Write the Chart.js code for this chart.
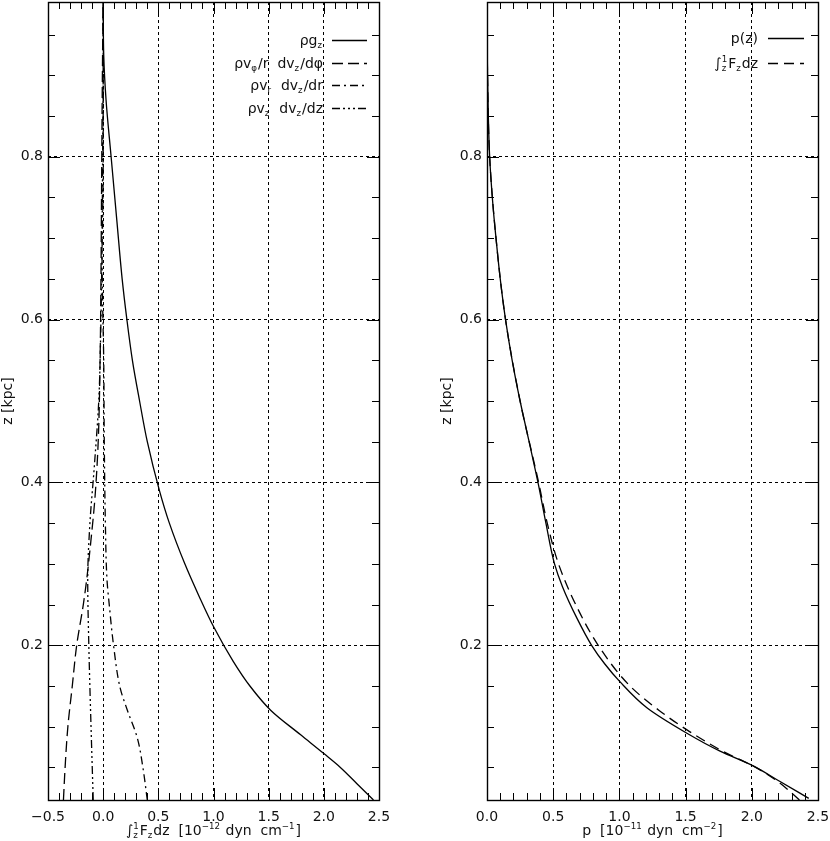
<!DOCTYPE html>
<html><head><meta charset="utf-8">
<script src="https://cdn.jsdelivr.net/npm/chart.js@4/dist/chart.umd.min.js"></script>
<style>
html,body{margin:0;padding:0;background:#fff;}
#wrap{position:relative;width:830px;height:841px;overflow:hidden;}
canvas{position:absolute;top:0;}
#c1{left:0}
#c2{left:415px}
</style></head><body>
<div id="wrap"><canvas id="c1" width="415" height="841"></canvas><canvas id="c2" width="415" height="841"></canvas></div>
<script>
// ---------- data (left panel: force terms integrated from z to 1 kpc) ----------
const zGrav    = [0.01,0.03,0.05,0.067,0.09,0.12,0.15,0.18,0.223,0.26,0.30,0.35,0.39,0.45,0.50,0.55,0.60,0.65,0.72,0.80,0.87,0.925,0.99];
const gravTerm = [2.45,2.30,2.15,2.00,1.79,1.52,1.33,1.18,1.00,0.87,0.74,0.60,0.51,0.40,0.33,0.265,0.215,0.172,0.125,0.072,0.026,0.005,0.0];

const zPhi     = [0.01,0.05,0.10,0.15,0.20,0.25,0.28,0.33,0.38,0.45,0.55,0.65,0.75,0.85,0.93,0.99];
const phiTerm  = [-0.36,-0.345,-0.32,-0.28,-0.24,-0.18,-0.15,-0.11,-0.075,-0.045,-0.028,-0.02,-0.015,-0.01,-0.005,0.0];

const zRad     = [0.01,0.05,0.086,0.12,0.147,0.20,0.25,0.28,0.35,0.45,0.55,0.62,0.68,0.72,0.80,0.90,0.99];
const radTerm  = [0.40,0.36,0.31,0.22,0.155,0.094,0.055,0.035,0.02,0.01,0.005,-0.005,-0.01,-0.005,0.0,0.0,0.0];

const zVert    = [0.01,0.10,0.20,0.28,0.35,0.42,0.50,0.60,0.70,0.80,0.90,0.99];
const vertTerm = [-0.09,-0.11,-0.13,-0.14,-0.12,-0.08,-0.04,-0.02,-0.01,-0.005,0.0,0.0];

// ---------- data (right panel: pressure) ----------
const zPress   = [0.012,0.033,0.052,0.07,0.092,0.123,0.156,0.177,0.20,0.233,0.272,0.30,0.35,0.40,0.45,0.50,0.55,0.60,0.65,0.70,0.74,0.80,0.85,0.90,0.953];
const pressure = [2.43,2.21,2.01,1.76,1.51,1.21,1.00,0.89,0.79,0.68,0.57,0.51,0.445,0.385,0.318,0.25,0.19,0.14,0.10,0.068,0.045,0.02,0.01,0.004,0.0];

const zInteg   = [0.01,0.031,0.05,0.07,0.094,0.12,0.15,0.20,0.25,0.30,0.35,0.40,0.50,0.60,0.70,0.80,0.90,0.96];
const integF   = [2.36,2.21,2.03,1.78,1.53,1.30,1.08,0.84,0.67,0.54,0.455,0.39,0.25,0.14,0.068,0.02,0.004,0.0];

// ---------- ticks & labels ----------
const xTicksLeft  = [-0.5,0.0,0.5,1.0,1.5,2.0,2.5];
const xTicksRight = [0.0,0.5,1.0,1.5,2.0,2.5];
const yTicks      = [0.2,0.4,0.6,0.8];
const yTitle      = 'z [kpc]';
const xTitleLeft  = '∫_{z}^{1}F_{z}dz  [10^{−12} dyn  cm^{−1}]';
const xTitleRight = 'p  [10^{−11} dyn  cm^{−2}]';
const legendLeft  = ['ρg_{z}', 'ρv_{φ}/r  dv_{z}/dφ', 'ρv_{r}  dv_{z}/dr', 'ρv_{z}  dv_{z}/dz'];
const legendRight = ['p(z)', '∫_{z}^{1}F_{z}dz'];

const FAM = '"DejaVu Sans", sans-serif';
const FS = 14;
const INK = '#111';

function pts(zs, vs){ return zs.map((z,i)=>({x:vs[i], y:z})); }

// ---------- rich text helpers ----------
function parseRich(s){
  const segs=[]; let buf=''; let i=0;
  while(i<s.length){
    const c=s[i];
    if((c==='_'||c==='^') && s[i+1]==='{'){
      const j=s.indexOf('}',i+2); const t=s.slice(i+2,j);
      if(buf){segs.push({n:buf}); buf='';}
      const last=segs[segs.length-1];
      if(c==='^' && last && last.sub!==undefined && last.sup===undefined){ last.sup=t; }
      else if(c==='_'){ segs.push({sub:t}); }
      else { segs.push({sup:t}); }
      i=j+1; continue;
    }
    buf+=c; i++;
  }
  if(buf) segs.push({n:buf});
  return segs;
}
function drawRich(ctx, s, x, yMid, align, S){
  const segs=parseRich(s);
  const small=S*0.62;
  let w=0;
  for(const g of segs){
    if(g.n!==undefined){ ctx.font=`${S}px ${FAM}`; g.w=ctx.measureText(g.n).width; }
    else { ctx.font=`${small}px ${FAM}`;
      g.w=Math.max(g.sub?ctx.measureText(g.sub).width:0, g.sup?ctx.measureText(g.sup).width:0)+1; }
    w+=g.w;
  }
  let cx = align==='right' ? x-w : (align==='center' ? x-w/2 : x);
  const base = yMid + S*0.36;
  ctx.save();
  ctx.textAlign='left'; ctx.textBaseline='alphabetic'; ctx.fillStyle=INK;
  for(const g of segs){
    if(g.n!==undefined){ ctx.font=`${S}px ${FAM}`; ctx.fillText(g.n, cx, base); }
    else {
      ctx.font=`${small}px ${FAM}`;
      if(g.sub) ctx.fillText(g.sub, cx, base + S*0.22);
      if(g.sup) ctx.fillText(g.sup, cx, base - S*0.45);
    }
    cx+=g.w;
  }
  ctx.restore();
}

// ---------- plugin: frame with inward ticks, legend, x title ----------
const decorPlugin = {
  id:'decor',
  afterDatasetsDraw(chart, args, o){
    const {ctx, chartArea:a} = chart;
    const x=chart.scales.x, y=chart.scales.y;
    ctx.save();
    ctx.strokeStyle='#000'; ctx.setLineDash([]);
    ctx.lineWidth=1;
    ctx.beginPath();
    const eps=1e-6;
    for(let k=Math.ceil(x.min/o.xMinor-eps); k*o.xMinor<=x.max+eps; k++){
      const v=k*o.xMinor;
      const px=Math.round(x.getPixelForValue(v))+0.5;
      const r=v/o.xMajor; const major=Math.abs(r-Math.round(r))<eps;
      const L=major?12:7;
      ctx.moveTo(px,a.bottom); ctx.lineTo(px,a.bottom-L);
      ctx.moveTo(px,a.top); ctx.lineTo(px,a.top+L);
    }
    for(let k=Math.ceil(y.min/o.yMinor-eps); k*o.yMinor<=y.max+eps; k++){
      const v=k*o.yMinor;
      const py=Math.round(y.getPixelForValue(v))+0.5;
      const r=v/o.yMajor; const major=Math.abs(r-Math.round(r))<eps;
      const L=major?12:7;
      ctx.moveTo(a.left,py); ctx.lineTo(a.left+L,py);
      ctx.moveTo(a.right,py); ctx.lineTo(a.right-L,py);
    }
    ctx.stroke();
    ctx.lineWidth=1.4;
    ctx.strokeRect(Math.round(a.left)+0.5, Math.round(a.top)+0.5, Math.round(a.right-a.left), Math.round(a.bottom-a.top));
    // legend
    o.legend.forEach((lab,i)=>{
      const ds=chart.data.datasets[i];
      const yy=a.top+o.legendTop+i*o.legendStep;
      drawRich(ctx, lab, a.right-o.textGap, yy, 'right', FS);
      ctx.save();
      ctx.strokeStyle=ds.borderColor; ctx.lineWidth=ds.borderWidth;
      ctx.setLineDash(ds.borderDash||[]);
      ctx.beginPath();
      ctx.moveTo(a.right-o.sampleFrom, Math.round(yy)+0.5);
      ctx.lineTo(a.right-o.sampleTo, Math.round(yy)+0.5);
      ctx.stroke();
      ctx.restore();
    });
    // x axis title
    drawRich(ctx, o.xTitle, (a.left+a.right)/2, o.xTitleY, 'center', FS);
    ctx.restore();
  }
};

function fmt(v){ const s=Math.abs(v).toFixed(1); return v<0 ? '−'+s : s; }

function makeChart(id, datasets, xmin, xmax, xticks, padLeft, padRight, decor){
  return new Chart(document.getElementById(id), {
    type:'scatter',
    data:{datasets},
    plugins:[decorPlugin],
    options:{
      responsive:false, animation:false, devicePixelRatio:1,
      indexAxis:'y',
      layout:{padding:{left:padLeft, right:padRight, top:2, bottom:0}},
      plugins:{legend:{display:false}, tooltip:{enabled:false}, decor},
      elements:{point:{radius:0, hoverRadius:0}, line:{cubicInterpolationMode:'monotone'}},
      scales:{
        x:{type:'linear', min:xmin, max:xmax,
           afterBuildTicks:s=>{ s.ticks=xticks.map(v=>({value:v})); },
           afterFit:s=>{ s.height=41; s.paddingLeft=0; s.paddingRight=0; },
           grid:{color:'#000', lineWidth:1, drawTicks:false},
           border:{display:false, dash:[3,3]},
           ticks:{padding:9, color:INK, font:{family:FAM, size:FS}, maxRotation:0, autoSkip:false, callback:v=>fmt(v)}},
        y:{type:'linear', min:0.01, max:0.99,
           afterBuildTicks:s=>{ s.ticks=yTicks.map(v=>({value:v})); },
           afterFit:s=>{ s.width=48; s.paddingTop=0; s.paddingBottom=0; },
           grid:{color:'#000', lineWidth:1, drawTicks:false},
           border:{display:false, dash:[3,3]},
           title:{display:true, text:yTitle, color:INK, font:{family:FAM, size:FS}, padding:{top:0,bottom:0}},
           ticks:{padding:5, color:INK, font:{family:FAM, size:FS}, autoSkip:false, callback:v=>fmt(v)}}
      }
    }
  });
}

const base = {borderColor:'#000', borderWidth:1.3, showLine:true, fill:false, pointRadius:0, cubicInterpolationMode:'monotone'};

makeChart('c1', [
  {...base, label:legendLeft[0], data:pts(zGrav,gravTerm), borderDash:[]},
  {...base, label:legendLeft[1], data:pts(zPhi,phiTerm), borderDash:[11,5]},
  {...base, label:legendLeft[2], data:pts(zRad,radTerm), borderDash:[8,4,2,4]},
  {...base, label:legendLeft[3], data:pts(zVert,vertTerm), borderDash:[8,3,2,3,2,3,2,3]}
], -0.5, 2.5, xTicksLeft, 0, 36,
 {xMinor:0.1, xMajor:0.5, yMinor:0.05, yMajor:0.2, legend:legendLeft, legendTop:38, legendStep:22.5,
  textGap:56, sampleFrom:47, sampleTo:12, xTitle:xTitleLeft, xTitleY:830});

makeChart('c2', [
  {...base, label:legendRight[0], data:pts(zPress,pressure), borderDash:[]},
  {...base, label:legendRight[1], data:pts(zInteg,integF), borderDash:[10,6]}
], 0.0, 2.5, xTicksRight, 24, 12,
 {xMinor:0.1, xMajor:0.5, yMinor:0.05, yMajor:0.2, legend:legendRight, legendTop:36, legendStep:25,
  textGap:60, sampleFrom:50, sampleTo:14, xTitle:xTitleRight, xTitleY:830});
</script>
</body></html>
